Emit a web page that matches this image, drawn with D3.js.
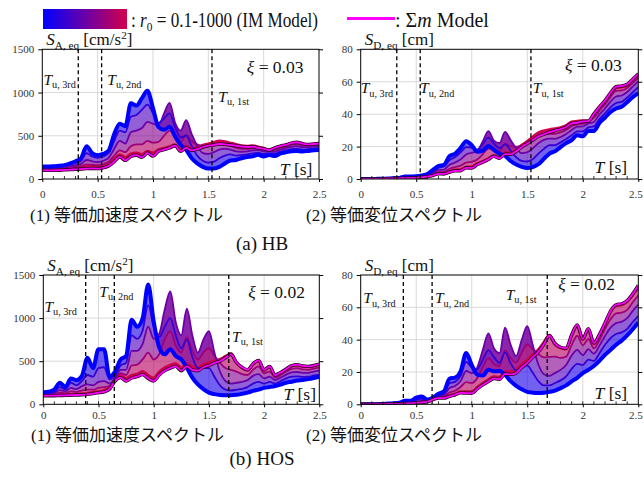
<!DOCTYPE html>
<html>
<head>
<meta charset="utf-8">
<script src="https://cdn.jsdelivr.net/npm/d3@7"></script>
<style>
body { margin: 0; background: #fff; }
</style>
</head>
<body>
<div id="chart"></div>
<script>
// natural period T [s], shared by every curve
var periods = [0,0.05,0.1,0.15,0.2,0.25,0.3,0.35,0.4,0.45,0.5,0.55,0.6,0.65,0.7,0.75,0.8,0.85,0.9,0.95,
    1,1.05,1.1,1.15,1.2,1.25,1.3,1.35,1.4,1.45,1.5,1.55,1.6,1.65,1.7,1.75,1.8,1.85,1.9,1.95,
    2,2.05,2.1,2.15,2.2,2.25,2.3,2.35,2.4,2.45,2.5];

// IM model curves, r0 = 0.1, 1, 10, 100, 1000 (blue -> red)
var r0Levels = ["0.1", "1", "10", "100", "1000"];

// (a) HB, equivalent acceleration spectrum [cm/s2]
var hbAccIM = [
    [145,145,148,152,160,180,205,240,380,300,275,290,330,520,640,610,875,850,935,1020,820,600,570,605,490,395,335,240,180,140,120,122,140,180,215,220,240,255,262,280,260,278,265,295,308,322,325,318,325,332,335],
    [135,135,138,142,150,165,185,210,300,260,245,260,300,440,560,540,720,740,800,860,760,650,700,760,600,480,500,380,270,210,190,200,240,270,285,270,275,285,295,305,290,300,290,315,330,345,350,340,345,352,358],
    [125,125,127,130,135,145,160,175,220,205,195,210,245,350,440,410,540,560,590,660,640,620,760,880,650,560,680,520,380,300,290,310,340,350,340,320,315,320,330,335,320,322,315,340,355,372,380,368,368,375,380],
    [115,115,117,120,124,130,140,150,170,165,160,172,200,270,330,310,380,400,400,440,420,430,500,560,500,430,510,440,400,380,380,395,410,400,380,360,350,350,355,350,338,332,338,360,375,395,405,390,385,390,395],
    [110,110,112,115,118,122,128,135,145,145,140,150,175,230,280,250,290,300,285,320,300,340,355,375,395,345,380,350,365,390,405,425,440,430,415,400,385,380,385,370,355,335,355,375,390,410,420,405,395,400,405]
];
var hbAccSigma = [100,100,100,102,105,108,112,115,120,122,120,130,150,200,255,215,260,275,250,300,265,320,340,360,385,320,360,330,345,370,385,395,405,400,395,385,375,370,375,360,350,335,360,380,395,415,425,410,400,405,410];

// (a) HB, equivalent displacement spectrum [cm]
var hbDispIM = [
    [0,0,0,0.1,0.2,0.3,0.5,0.7,1.5,1.5,1.7,2.2,3.0,5.6,7.9,8.7,14.2,15.6,19.2,23.3,20.8,16.8,17.5,20.3,17.9,15.6,14.3,11.1,8.9,7.5,6.8,7.4,9.1,12.4,15.7,17.1,19.7,22.1,24.0,27.0,26.3,29.6,29.6,34.5,37.8,41.3,43.5,44.5,47.4,50.5,53.0],
    [0,0,0,0.1,0.2,0.3,0.4,0.7,1.2,1.3,1.6,2.0,2.7,4.7,7.0,7.7,11.7,13.5,16.4,19.7,19.3,18.2,21.5,25.5,21.9,19.0,21.4,17.5,13.4,11.2,10.8,12.2,15.6,18.6,20.9,20.9,22.6,24.7,27.0,29.4,29.4,31.9,32.4,36.9,40.5,44.2,46.9,47.6,50.3,53.5,56.7],
    [0,0,0,0.1,0.1,0.2,0.4,0.5,0.9,1.1,1.2,1.6,2.2,3.7,5.5,5.8,8.8,10.2,12.1,15.1,16.2,17.3,23.3,29.5,23.7,22.2,29.1,24.0,18.9,16.0,16.5,18.9,22.0,24.1,24.9,24.8,25.9,27.7,30.2,32.3,32.4,34.3,35.2,39.8,43.5,47.7,50.9,51.5,53.7,57.0,60.2],
    [0,0,0,0.1,0.1,0.2,0.3,0.5,0.7,0.8,1.0,1.3,1.8,2.9,4.1,4.4,6.2,7.3,8.2,10.1,10.6,12.0,15.3,18.8,18.2,17.0,21.8,20.3,19.9,20.2,21.7,24.0,26.6,27.6,27.8,27.9,28.7,30.3,32.5,33.7,34.2,35.3,37.8,42.2,46.0,50.7,54.3,54.6,56.2,59.3,62.5],
    [0,0,0,0.1,0.1,0.2,0.3,0.4,0.6,0.7,0.9,1.1,1.6,2.5,3.5,3.6,4.7,5.5,5.8,7.3,7.6,9.5,10.9,12.6,14.4,13.7,16.3,16.2,18.1,20.8,23.1,25.9,28.5,29.7,30.4,31.0,31.6,32.9,35.2,35.6,36.0,35.7,39.7,43.9,47.8,52.6,56.3,56.7,57.6,60.8,64.1]
];
var hbDispSigma = [0,0,0,0.1,0.1,0.2,0.3,0.4,0.5,0.6,0.8,1.0,1.4,2.1,3.2,3.1,4.2,5.0,5.1,6.9,6.7,8.9,10.4,12.1,14.0,12.7,15.4,15.2,17.1,19.7,21.9,24.0,26.3,27.6,28.9,29.9,30.8,32.1,34.3,34.7,35.5,35.7,40.2,44.5,48.4,53.2,56.9,57.4,58.4,61.6,64.9];

// (b) HOS, equivalent acceleration spectrum [cm/s2]
var hosAccIM = [
    [140,145,170,250,200,300,280,330,540,420,640,640,320,380,520,560,980,900,1000,1390,960,660,580,640,560,520,425,310,230,175,135,118,108,105,105,110,122,135,155,170,190,200,212,230,250,262,275,282,292,305,320],
    [130,135,150,200,175,250,220,270,340,320,420,430,290,330,450,480,800,760,860,1150,900,780,900,1000,800,650,750,550,420,420,420,320,220,170,160,170,180,200,240,260,240,260,240,270,300,320,325,318,320,335,345],
    [120,125,135,165,150,190,175,210,230,220,260,270,240,300,400,400,620,620,700,900,760,820,1100,1310,950,800,1110,800,600,750,850,600,380,270,240,250,260,280,330,350,300,320,280,310,345,370,375,365,365,380,390],
    [112,115,120,135,128,150,142,160,170,170,190,200,210,290,360,340,450,460,520,600,520,580,750,850,680,600,780,620,520,600,650,560,480,420,400,380,350,340,400,440,360,380,310,340,380,410,420,405,400,415,425],
    [108,108,108,110,112,115,118,122,128,140,150,162,195,290,335,300,335,350,380,335,305,375,425,455,470,425,470,435,425,460,480,505,520,555,585,480,425,395,465,505,395,435,335,365,405,445,455,440,435,445,460]
];
var hosAccSigma = [100,100,100,102,103,105,108,110,115,125,135,145,175,270,310,270,305,320,345,300,270,340,390,420,440,390,440,400,390,430,450,480,500,540,580,485,430,400,470,510,400,440,340,370,410,450,460,445,440,450,465];

// (b) HOS, equivalent displacement spectrum [cm]
var hosDispIM = [
    [0,0,0,0.1,0.2,0.5,0.6,1.0,2.2,2.2,4.1,4.9,2.9,4.1,6.5,8.0,15.9,16.5,20.5,31.8,24.3,18.4,17.8,21.4,20.4,20.6,18.2,14.3,11.4,9.3,7.7,7.2,7.0,7.2,7.7,8.5,10.0,11.7,14.2,16.4,19.3,21.3,23.7,26.9,30.6,33.6,36.8,39.4,42.6,46.4,50.7],
    [0,0,0,0.1,0.2,0.4,0.5,0.8,1.4,1.6,2.7,3.3,2.6,3.5,5.6,6.8,13.0,13.9,17.6,26.3,22.8,21.8,27.6,33.5,29.2,25.7,32.1,25.4,20.9,22.4,23.9,19.5,14.3,11.7,11.7,13.2,14.8,17.3,21.9,25.0,24.3,27.7,26.8,31.6,36.8,41.0,43.5,44.5,46.7,50.9,54.6],
    [0,0,0,0.1,0.2,0.3,0.4,0.7,0.9,1.1,1.6,2.1,2.2,3.2,5.0,5.7,10.1,11.3,14.4,20.6,19.3,22.9,33.7,43.9,34.7,31.7,47.5,36.9,29.8,39.9,48.4,36.5,24.6,18.6,17.6,19.4,21.3,24.3,30.2,33.7,30.4,34.1,31.3,36.3,42.3,47.4,50.2,51.1,53.3,57.8,61.7],
    [0,0,0,0.1,0.1,0.2,0.3,0.5,0.7,0.9,1.2,1.5,1.9,3.1,4.5,4.8,7.3,8.4,10.7,13.7,13.2,16.2,23.0,28.5,24.8,23.7,33.4,28.6,25.8,32.0,37.0,34.1,31.1,29.0,29.3,29.5,28.7,29.5,36.6,42.4,36.5,40.4,34.6,39.8,46.6,52.6,56.3,56.7,58.4,63.1,67.3],
    [0,0,0,0.1,0.1,0.2,0.3,0.4,0.5,0.7,0.9,1.2,1.8,3.1,4.2,4.3,5.4,6.4,7.8,7.7,7.7,10.5,13.0,15.2,17.1,16.8,20.1,20.1,21.1,24.5,27.4,30.7,33.7,38.3,42.8,37.2,34.9,34.2,42.5,48.6,40.0,46.3,37.4,42.7,49.6,57.1,61.0,61.5,63.5,67.7,72.8]
];
var hosDispSigma = [0,0,0,0.1,0.1,0.2,0.2,0.3,0.5,0.6,0.9,1.1,1.6,2.9,3.8,3.8,4.9,5.9,7.1,6.9,6.8,9.5,12.0,14.1,16.0,15.4,18.8,18.5,19.4,22.9,25.6,29.2,32.4,37.2,42.5,37.6,35.3,34.7,43.0,49.1,40.5,46.8,38.0,43.3,50.3,57.7,61.6,62.2,64.2,68.4,73.6];

// unloading periods T_u (1st, 2nd, 3rd) and damping
var hbTu = [1.533, 0.536, 0.325];
var hosTu = [1.68, 0.643, 0.384];
var hbXi = "0.03";
var hosXi = "0.02";

var periodTicks = [0, 0.5, 1, 1.5, 2, 2.5];
var accTicks = [0, 500, 1000, 1500];
var dispTicks = [0, 20, 40, 60, 80];

var SERIF = "'Liberation Serif', 'Times New Roman', serif";
var CJK = "'Noto Sans CJK JP', sans-serif";

var W = 644, H = 484;
var svg = d3.select("#chart").append("svg").attr("width", W).attr("height", H)
    .attr("font-family", SERIF);

var imColor = d3.scaleLinear().domain([0, 0.5, 1]).range(["#0000ff", "#6a00a8", "#d2004c"]);
var sigmaColor = "#ff00ff";

// text made of pieces: {t, it, sub, sup, cjk}
function richText(g, x, y, parts, size, anchor) {
    var t = g.append("text").attr("x", x).attr("y", y).attr("font-family", SERIF)
        .attr("font-size", size).attr("text-anchor", anchor || "start").attr("fill", "#111");
    var shift = 0;
    parts.forEach(function(p) {
        var want = p.sub ? size * 0.22 : (p.sup ? -size * 0.38 : 0);
        var s = t.append("tspan").attr("dy", want - shift).text(p.t);
        shift = want;
        if (p.it) s.attr("font-style", "italic");
        if (p.cjk) s.attr("font-family", CJK);
        if (p.sub || p.sup) s.attr("font-size", size * 0.66);
    });
    return t;
}

// legend
var defs = svg.append("defs");
var grad = defs.append("linearGradient").attr("id", "imGrad");
[0, 0.5, 1].forEach(function(o) {
    grad.append("stop").attr("offset", o).attr("stop-color", imColor(o));
});
svg.append("rect").attr("x", 43).attr("y", 9).attr("width", 84).attr("height", 20)
    .attr("fill", "url(#imGrad)");
richText(svg, 131, 27, [{t: ": "}, {t: "r", it: true}, {t: "0", sub: true}, {t: " = " + r0Levels[0] + "-" + r0Levels[4] + " (IM Model)"}], 20)
    .attr("textLength", 187).attr("lengthAdjust", "spacingAndGlyphs");
svg.append("line").attr("x1", 347).attr("x2", 395).attr("y1", 18.5).attr("y2", 18.5)
    .attr("stroke", sigmaColor).attr("stroke-width", 3);
richText(svg, 395, 27, [{t: ": Σ"}, {t: "m", it: true}, {t: " Model"}], 20);

var panelId = 0;
function drawPanel(cfg) {
    var x = d3.scaleLinear().domain([0, 2.5]).range([cfg.left, cfg.right]);
    var y = d3.scaleLinear().domain([0, cfg.yMax]).range([cfg.bottom, cfg.top]);
    var g = svg.append("g");
    var clipId = "clip" + (panelId++);
    defs.append("clipPath").attr("id", clipId).append("rect")
        .attr("x", cfg.left).attr("y", cfg.top)
        .attr("width", cfg.right - cfg.left).attr("height", cfg.bottom - cfg.top);

    // grid
    g.selectAll(".vgrid").data(periodTicks.slice(1, -1)).enter().append("line")
        .attr("x1", x).attr("x2", x).attr("y1", cfg.top).attr("y2", cfg.bottom)
        .attr("stroke", "#d9d9d9").attr("stroke-width", 1);
    g.selectAll(".hgrid").data(cfg.yTicks.slice(1, -1)).enter().append("line")
        .attr("y1", y).attr("y2", y).attr("x1", cfg.left).attr("x2", cfg.right)
        .attr("stroke", "#d9d9d9").attr("stroke-width", 1);

    var plot = g.append("g").attr("clip-path", "url(#" + clipId + ")");
    var n = cfg.im.length - 1;

    // bands between neighbouring r0 curves
    for (var k = 0; k < n; k++) {
        var lo = cfg.im[k], hi = cfg.im[k + 1];
        var area = d3.area().curve(d3.curveMonotoneX)
            .x(function(d, i) { return x(periods[i]); })
            .y0(function(d, i) { return y(lo[i]); })
            .y1(function(d, i) { return y(hi[i]); });
        plot.append("path").datum(periods).attr("d", area)
            .attr("fill", imColor((k + 0.5) / n)).attr("fill-opacity", 0.62);
    }

    var line = d3.line().curve(d3.curveMonotoneX)
        .x(function(d, i) { return x(periods[i]); })
        .y(function(d) { return y(d); });

    for (var j = n; j >= 0; j--) {
        plot.append("path").datum(cfg.im[j]).attr("d", line)
            .attr("fill", "none").attr("stroke", imColor(j / n))
            .attr("stroke-width", j == 0 ? 4 : (j == n ? 3 : 1.8));
    }

    // Sigma m model: dark edge + magenta core
    plot.append("path").datum(cfg.sigma).attr("d", line)
        .attr("fill", "none").attr("stroke", "#300020").attr("stroke-width", 3.4);
    plot.append("path").datum(cfg.sigma).attr("d", line)
        .attr("fill", "none").attr("stroke", sigmaColor).attr("stroke-width", 1.8);

    // T_u markers
    g.selectAll(".tu").data(cfg.tu).enter().append("line")
        .attr("x1", x).attr("x2", x).attr("y1", cfg.top).attr("y2", cfg.bottom)
        .attr("stroke", "#000").attr("stroke-width", 1.3).attr("stroke-dasharray", "4,3");

    var ords = ["1st", "2nd", "3rd"];
    cfg.tuLabels.forEach(function(p, i) {
        richText(g, x(p[0]), y(p[1]), [{t: "T", it: true}, {t: "u, " + ords[i], sub: true}], 15.5);
    });
    richText(g, x(cfg.xiPos[0]), y(cfg.xiPos[1]), [{t: "ξ", it: true}, {t: " = " + cfg.xi}], 17.5, "end");
    richText(g, x(cfg.tPos[0]), y(cfg.tPos[1]), [{t: "T", it: true}, {t: " [s]"}], 17.5, "end");

    // frame
    g.append("rect").attr("x", cfg.left).attr("y", cfg.top)
        .attr("width", cfg.right - cfg.left).attr("height", cfg.bottom - cfg.top)
        .attr("fill", "none").attr("stroke", "#000").attr("stroke-width", 1);

    // axes
    var ax = g.append("g").attr("transform", "translate(0," + cfg.bottom + ")")
        .call(d3.axisBottom(x).tickValues(periodTicks).tickSize(3).tickPadding(cfg.xPad)
            .tickFormat(d3.format("")));
    // keep the last label inside the page
    ax.selectAll(".tick text").filter(function(d) { return d == 2.5 && x(d) > W - 10; })
        .attr("dx", -3);
    var minor = d3.range(1, 25).map(function(i) { return i / 10; });
    g.selectAll(".minor").data(minor).enter().append("line")
        .attr("x1", x).attr("x2", x).attr("y1", cfg.bottom).attr("y2", cfg.bottom - 3)
        .attr("stroke", "#000").attr("stroke-width", 0.8);
    var ay = g.append("g").attr("transform", "translate(" + cfg.left + ",0)")
        .call(d3.axisLeft(y).tickValues(cfg.yTicks).tickSize(4).tickPadding(4)
            .tickFormat(d3.format("d")));
    var ayr = g.append("g").attr("transform", "translate(" + cfg.right + ",0)")
        .call(d3.axisRight(y).tickValues(cfg.yTicks).tickSize(4).tickFormat(""));
    [ax, ay, ayr].forEach(function(a) {
        a.attr("font-family", SERIF);
        a.select(".domain").remove();
        a.selectAll("line").attr("stroke", "#000");
        a.selectAll("text").attr("font-size", 11).attr("fill", "#333");
    });

    richText(g, cfg.left + 4, cfg.top - 4, cfg.yLabel, 17);
}

var accLabel = [{t: "S", it: true}, {t: "A, eq", sub: true}, {t: " [cm/s"}, {t: "2", sup: true}, {t: "]"}];
var dispLabel = [{t: "S", it: true}, {t: "D, eq", sub: true}, {t: " [cm]"}];

drawPanel({left: 42.3, right: 319, top: 49.3, bottom: 179, yMax: 1500, yTicks: accTicks, xPad: 8,
    im: hbAccIM, sigma: hbAccSigma, tu: hbTu, xi: hbXi, yLabel: accLabel,
    tuLabels: [[1.59, 894], [0.587, 1088], [0.01, 1088]], xiPos: [2.36, 1226], tPos: [2.44, 46]});
drawPanel({left: 360.7, right: 638.3, top: 49.3, bottom: 179, yMax: 80, yTicks: dispTicks, xPad: 8,
    im: hbDispIM, sigma: hbDispSigma, tu: hbTu, xi: hbXi, yLabel: dispLabel,
    tuLabels: [[1.55, 52.9], [0.535, 52.9], [0.0, 52.9]], xiPos: [2.35, 66.8], tPos: [2.4, 3.7]});
drawPanel({left: 43.3, right: 319.3, top: 275, bottom: 404.3, yMax: 1500, yTicks: accTicks, xPad: 4,
    im: hosAccIM, sigma: hosAccSigma, tu: hosTu, xi: hosXi, yLabel: accLabel,
    tuLabels: [[1.71, 726], [0.507, 1248], [0.01, 1074]], xiPos: [2.37, 1230], tPos: [2.47, 50]});
drawPanel({left: 360.7, right: 638.3, top: 275, bottom: 404.3, yMax: 80, yTicks: dispTicks, xPad: 4,
    im: hosDispIM, sigma: hosDispSigma, tu: hosTu, xi: hosXi, yLabel: dispLabel,
    tuLabels: [[1.306, 64.5], [0.669, 62.5], [0.023, 62.5]], xiPos: [2.29, 70.7], tPos: [2.4, 3.3]});

// captions
var cap = 17;
richText(svg, 30, 221, [{t: "(1) "}, {t: "等価加速度スペクトル", cjk: true}], cap);
richText(svg, 306, 221, [{t: "(2) "}, {t: "等価変位スペクトル", cjk: true}], cap);
richText(svg, 262, 250, [{t: "(a) HB"}], 19, "middle");
richText(svg, 31, 441, [{t: "(1) "}, {t: "等価加速度スペクトル", cjk: true}], cap);
richText(svg, 306, 441, [{t: "(2) "}, {t: "等価変位スペクトル", cjk: true}], cap);
richText(svg, 262, 465, [{t: "(b) HOS"}], 19, "middle");
</script>
</body>
</html>
